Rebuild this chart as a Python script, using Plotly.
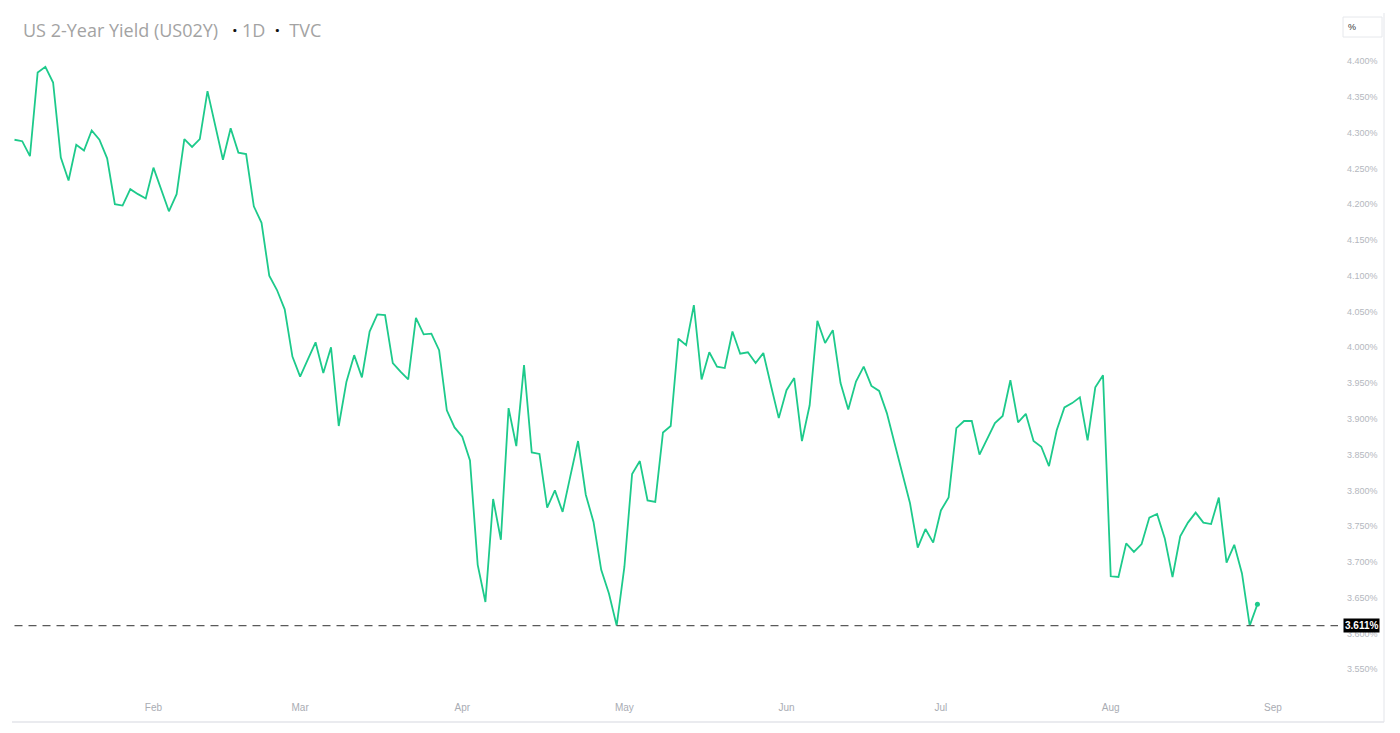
import pandas as pd
import plotly.graph_objects as go

# ---------------- data ----------------
first_day = "2025-01-06"
last_calendar_day = "2025-09-05"
market_holidays = ["2025-01-09", "2025-01-20", "2025-02-17", "2025-04-18",
                   "2025-05-26", "2025-06-19", "2025-07-04", "2025-09-01"]

yield_pct = [
    4.290, 4.288, 4.267, 4.384, 4.392, 4.370, 4.265, 4.233, 4.283, 4.275,
    4.303, 4.290, 4.264, 4.200, 4.198, 4.221, 4.214, 4.208, 4.251, 4.220,
    4.190, 4.214, 4.291, 4.280, 4.291, 4.358, 4.309, 4.262, 4.306, 4.272,
    4.270, 4.197, 4.174, 4.100, 4.080, 4.053, 3.987, 3.959, 3.983, 4.007,
    3.964, 4.000, 3.890, 3.952, 3.989, 3.958, 4.022, 4.046, 4.045, 3.978,
    3.966, 3.955, 4.041, 4.018, 4.019, 3.996, 3.912, 3.888, 3.875, 3.842,
    3.696, 3.644, 3.788, 3.731, 3.915, 3.862, 3.975, 3.853, 3.851, 3.776,
    3.800, 3.770, 3.820, 3.869, 3.794, 3.756, 3.689, 3.656, 3.611, 3.693,
    3.823, 3.841, 3.786, 3.784, 3.881, 3.890, 4.012, 4.003, 4.059, 3.955,
    3.993, 3.973, 3.971, 4.022, 3.991, 3.993, 3.978, 3.992, 3.946, 3.901,
    3.940, 3.957, 3.869, 3.919, 4.037, 4.006, 4.024, 3.950, 3.913, 3.952,
    3.973, 3.946, 3.939, 3.908, 3.866, 3.825, 3.782, 3.720, 3.746, 3.727,
    3.772, 3.790, 3.887, 3.897, 3.897, 3.850, 3.873, 3.894, 3.904, 3.954,
    3.895, 3.907, 3.869, 3.861, 3.834, 3.884, 3.916, 3.922, 3.930, 3.870,
    3.944, 3.961, 3.680, 3.679, 3.726, 3.714, 3.725, 3.762, 3.767, 3.733,
    3.679, 3.736, 3.755, 3.769, 3.755, 3.753, 3.790, 3.699, 3.724, 3.684,
    3.611, 3.641,
]

low_level = 3.611
low_label = "3.611%"
title_name = "US 2-Year Yield (US02Y)"
title_interval = "1D"
title_source = "TVC"
month_labels = ["Feb", "Mar", "Apr", "May", "Jun", "Jul", "Aug", "Sep"]
y_ticks = [3.55, 3.60, 3.65, 3.70, 3.75, 3.80, 3.85, 3.90, 3.95, 4.00,
           4.05, 4.10, 4.15, 4.20, 4.25, 4.30, 4.35, 4.40]
y_tick_text = [f"{v:.3f}%" for v in y_ticks]

# ---------------- calendar ----------------
all_days = [d for d in pd.bdate_range(first_day, last_calendar_day)
            if d.strftime("%Y-%m-%d") not in market_holidays]
all_dates = [d.strftime("%Y-%m-%d") for d in all_days]
dates = all_dates[:len(yield_pct)]

tick_vals = []
prev_month = all_days[0].month
for d in all_days[1:]:
    if d.month != prev_month:
        tick_vals.append(d.strftime("%Y-%m-%d"))
        prev_month = d.month
tick_vals = tick_vals[:len(month_labels)]

# ---------------- figure ----------------
LINE = "#1dca8b"
W, H = 1400, 733
OFF = 8                      # page offset of the plot div (body margin)
# plot area in page pixels: x 8..1338, y 45..690
ML = 0
MT = 45 - OFF
plot_w = 1338 - OFF - ML
plot_h = 690 - 45
MR = W - ML - plot_w
MB = H - MT - plot_h

fig = go.Figure()
fig.add_trace(go.Scatter(
    x=dates, y=yield_pct, mode="lines",
    line=dict(color=LINE, width=1.8), hoverinfo="skip", showlegend=False))
fig.add_trace(go.Scatter(
    x=[dates[-1]], y=[yield_pct[-1]], mode="markers",
    marker=dict(color=LINE, size=5), hoverinfo="skip", showlegend=False))

STEP = 7.72
x_lo = -(14.5 - OFF) / STEP
x_hi = x_lo + plot_w / STEP

fig.add_shape(type="line", xref="x", yref="y", x0=0, x1=x_hi,
              y0=low_level, y1=low_level,
              line=dict(color="#5a5a5a", width=1.4, dash="8px,6px"))


def px_x(p):
    return (p - OFF - ML) / plot_w


def px_y(p):
    return (MT + plot_h - (p - OFF)) / plot_h


# price-scale border and bottom border
fig.add_shape(type="line", xref="paper", yref="paper",
              x0=px_x(1384), x1=px_x(1384), y0=px_y(13), y1=px_y(722),
              line=dict(color="#e3e5ea", width=1))
fig.add_shape(type="line", xref="paper", yref="paper",
              x0=px_x(12), x1=px_x(1384), y0=px_y(722), y1=px_y(722),
              line=dict(color="#e3e5ea", width=1.5))
# "%" box
fig.add_shape(type="rect", xref="paper", yref="paper",
              x0=px_x(1343), x1=px_x(1382), y0=px_y(37), y1=px_y(17),
              line=dict(color="#e6e8ec", width=1), fillcolor="white")
fig.add_annotation(xref="paper", yref="paper", x=px_x(1346), y=px_y(27),
                   text="%", showarrow=False, xanchor="left", yanchor="middle",
                   font=dict(family="Liberation Sans", size=9, color="#333333"))

# last-low label
fig.add_annotation(xref="paper", yref="y", x=px_x(1361), y=low_level,
                   text="<b>" + low_label + "</b>", showarrow=False,
                   xanchor="center", yanchor="middle", bgcolor="#000000",
                   borderpad=1,
                   font=dict(family="Liberation Sans", size=10, color="white"))

# title
dot = '<span style="color:#111111"><b>·</b></span>'
title_html = (f'<span style="color:#a3a3a3">{title_name}</span>'
              f'\u00a0\u00a0\u00a0{dot}\u00a0'
              f'<span style="color:#a3a3a3">{title_interval}</span>'
              f'\u00a0\u00a0{dot}\u00a0\u00a0'
              f'<span style="color:#a3a3a3">{title_source}</span>')
fig.add_annotation(xref="paper", yref="paper", x=px_x(21), y=px_y(30),
                   text=title_html, showarrow=False, xanchor="left",
                   yanchor="middle",
                   font=dict(family="Open Sans", size=18, color="#a3a3a3"))

fig.update_layout(
    width=W, height=H,
    margin=dict(l=ML, r=MR, t=MT, b=MB),
    paper_bgcolor="white", plot_bgcolor="white",
    xaxis=dict(type="category", categoryorder="array", categoryarray=all_dates,
               range=[x_lo, x_hi], tickvals=tick_vals, ticktext=month_labels,
               showgrid=False, zeroline=False, showline=False, ticks="",
               ticklabelstandoff=10,
               tickfont=dict(family="Liberation Sans", size=10, color="#a9acb3")),
    yaxis=dict(side="right", range=[3.5211, 4.4224], tickvals=y_ticks,
               ticktext=y_tick_text, showgrid=False,
               zeroline=False, showline=False, ticks="",
               ticklabelstandoff=8,
               tickfont=dict(family="Liberation Sans", size=9, color="#b4b7be")),
)

fig.write_html("out.html")
